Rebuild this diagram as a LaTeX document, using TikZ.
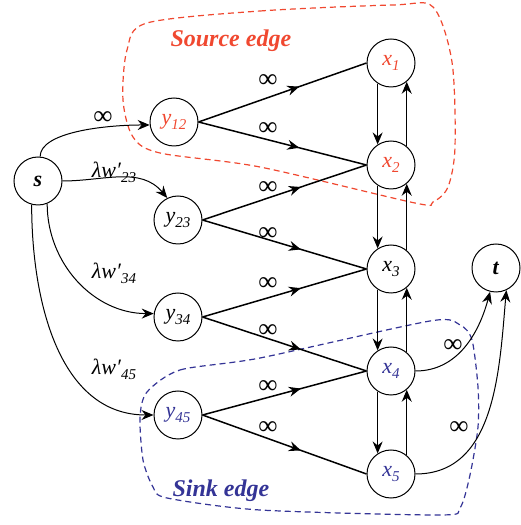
\documentclass[tikz,border=0pt]{standalone}
\usepackage{fontspec}
\setmainfont{Liberation Serif}
\usetikzlibrary{arrows.meta,decorations.markings}
\definecolor{srcred}{RGB}{240,72,48}
\definecolor{sinkblue}{RGB}{52,52,150}
\newcommand{\nlab}[2]{\textit{#1}\raisebox{-5pt}{\fontsize{15}{15}\selectfont\textit{#2}}}
\newcommand{\wlab}[1]{\textit{λw′}\raisebox{-5pt}{\fontsize{15}{15}\selectfont\textit{#1}}}
\begin{document}
\begin{tikzpicture}[x=1pt,y=1pt,
  vtx/.style={circle,draw,line width=1pt,minimum size=48pt,inner sep=0pt,font=\fontsize{22}{22}\selectfont},
  tip/.tip={Stealth[length=12pt,width=10pt,inset=4pt]},
  midarrow/.style={line width=1.5pt,postaction={decorate},
    decoration={markings,mark=at position 0.6 with {\arrow{tip}}}},
  vert/.style={line width=1.1pt,-tip},
  curv/.style={line width=1pt,-tip},
  lbl/.style={font=\fontsize{22}{22}\selectfont,inner sep=0pt},
  inflbl/.style={font=\fontsize{27}{27}\selectfont,inner sep=0pt},
  region/.style={line width=1.2pt,dash pattern=on 6pt off 4pt},
]
\useasboundingbox (0,0) rectangle (520,525);

% regions
\draw[region,srcred] plot[smooth cycle,tension=0.5] coordinates {
  (147,502) (260,514) (393,520) (433,518) (452,463) (455,378) (448,338)
  (433,323) (415,322) (260,358) (160,372) (133,388) (123,425) (127,475)};
\draw[region,sinkblue] plot[smooth cycle,tension=0.45] coordinates {
  (147,133) (180,155) (260,167) (430,204) (460,200) (472,185) (478,138)
  (478,98) (470,50) (460,17) (440,10) (260,15) (167,27) (153,38) (143,65) (140,108)};

\node[font=\fontsize{24}{24}\selectfont\bfseries\itshape,text=srcred,anchor=base west] (srclab) at (167,478) {Source edge};
\node[font=\fontsize{24}{24}\selectfont\bfseries\itshape,text=sinkblue,anchor=base west] (sinklab) at (169,28) {Sink edge};

% vertices
\node[vtx] (s) at (38,344) {\textbf{\textit{s}}};
\node[vtx] (t) at (496,257) {\textbf{\textit{t}}};
\node[vtx,text=srcred] (y12) at (174,403) {\nlab{y}{12}};
\node[vtx] (y23) at (178,305) {\nlab{y}{23}};
\node[vtx] (y34) at (178,208) {\nlab{y}{34}};
\node[vtx,text=sinkblue] (y45) at (178,110) {\nlab{y}{45}};
\node[vtx,text=srcred] (x1) at (391,462) {\nlab{x}{1}};
\node[vtx,text=srcred] (x2) at (391,360) {\nlab{x}{2}};
\node[vtx] (x3) at (391,256) {\nlab{x}{3}};
\node[vtx,text=sinkblue] (x4) at (391,154) {\nlab{x}{4}};
\node[vtx,text=sinkblue] (x5) at (391,51) {\nlab{x}{5}};

% y -> x edges
\draw[midarrow] (y12.east) -- (x1.west);
\draw[midarrow] (y12.east) -- (x2.west);
\draw[midarrow] (y23.east) -- (x2.west);
\draw[midarrow] (y23.east) -- (x3.west);
\draw[midarrow] (y34.east) -- (x3.west);
\draw[midarrow] (y34.east) -- (x4.west);
\draw[midarrow] (y45.east) -- (x4.west);
\draw[midarrow] (y45.east) -- (x5.west);

\node[inflbl] (i1) at (268,444) {∞};
\node[inflbl] (i2) at (268,396) {∞};
\node[inflbl] (i3) at (268,337) {∞};
\node[inflbl] (i4) at (268,291) {∞};
\node[inflbl] (i5) at (268,241) {∞};
\node[inflbl] (i6) at (268,194) {∞};
\node[inflbl] (i7) at (268,138) {∞};
\node[inflbl] (i8) at (268,97) {∞};

% vertical edges
\foreach \a/\b in {x1/x2,x2/x3,x3/x4,x4/x5}{
  \draw[vert] (\a.237) -- (\b.123);
  \draw[vert] (\b.50) -- (\a.310);
}

% source curves
\draw[curv] (s.85) to[out=90,in=180,out looseness=0.55] (y12.187);
\draw[curv] (s.east) to[out=0,in=130] (y23.116);
\draw[curv] (s.292) to[out=270,in=180] (y34.172);
\draw[curv] (s.255) to[out=270,in=180] (y45.west);
\node[inflbl] (ls1) at (103,407) {∞};
\node[lbl] (ls2) at (114,353) {\wlab{23}};
\node[lbl] (ls3) at (114,252) {\wlab{34}};
\node[lbl] (ls4) at (114,156) {\wlab{45}};

% sink curves
\draw[curv] (x4.east) to[out=0,in=255] (t.256);
\draw[curv] (x5.east) to[out=0,in=265] (t.295);
\node[inflbl] (lt1) at (453,179) {∞};
\node[inflbl] (lt2) at (459,97) {∞};
\end{tikzpicture}
\end{document}
